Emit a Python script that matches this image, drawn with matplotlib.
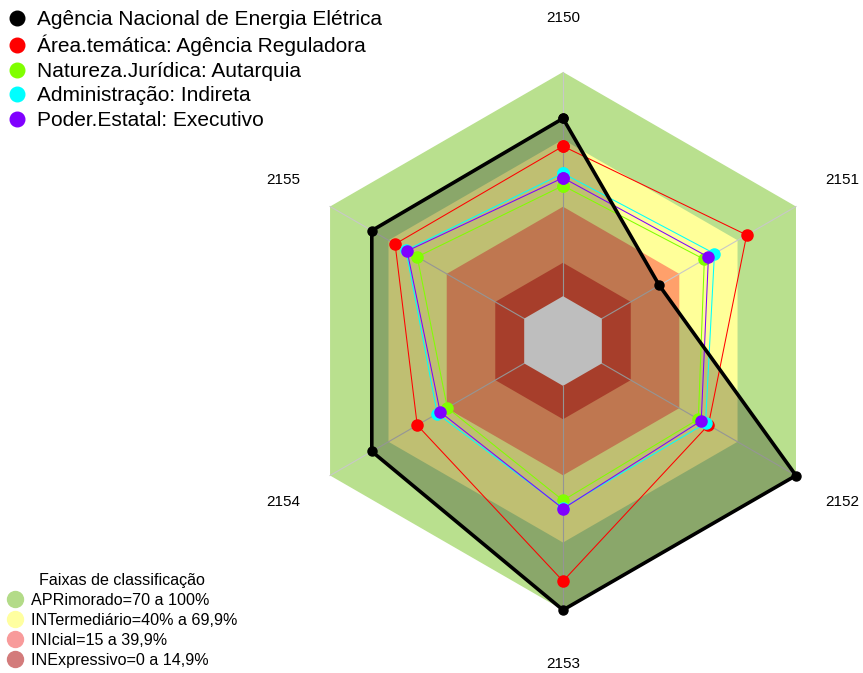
import numpy as np
import matplotlib
matplotlib.use("Agg")
import matplotlib.pyplot as plt
from matplotlib.lines import Line2D

plt.rcParams['font.family'] = ['Liberation Sans', 'DejaVu Sans']

# ---- data ----
axis_labels = ['2150', '2151', '2152', '2153', '2154', '2155']
aneel = [79.3, 29.6, 100.0, 100.0, 78.5, 78.5]
area_tematica = [66.9, 74.6, 54.9, 87.1, 55.1, 66.5]
natureza = [49.3, 52.8, 49.7, 51.1, 39.6, 55.1]
administracao = [54.8, 58.0, 53.4, 54.5, 44.8, 60.9]
poder = [52.8, 54.9, 51.2, 54.8, 43.3, 60.3]

series_names = ['Agência Nacional de Energia Elétrica',
                'Área.temática: Agência Reguladora',
                'Natureza.Jurídica: Autarquia',
                'Administração: Indireta',
                'Poder.Estatal: Executivo']
series_values = [aneel, area_tematica, natureza, administracao, poder]
series_colors = ['#000000', '#ff0000', '#80ff00', '#00ffff', '#8000ff']

band_names = ['APRimorado=70 a 100%', 'INTermediário=40% a 69,9%',
              'INIcial=15 a 39,9%', 'INExpressivo=0 a 14,9%']
band_upper = [100.0, 69.9, 39.9, 14.9]
band_fill_colors = ['#b9e08e', '#ffff99', '#ffa06b', '#e0543a']
band_legend_colors = ['#b3db88', '#ffffa0', '#f89b9b', '#d37b7b']
r_min = -20.0

# ---- figure ----
fig = plt.figure(figsize=(8.63, 6.73), dpi=100)
ax = fig.add_axes([0.3407, 0.0936, 0.6234, 0.7994], projection='polar')
ax.set_theta_zero_location('N')
ax.set_theta_direction(-1)
ax.set_ylim(r_min, 100)
ax.axis('off')

n = len(axis_labels)
theta = np.arange(n) * 2 * np.pi / n
theta_c = np.append(theta, theta[0])

def closed(v):
    return np.append(np.asarray(v, float), v[0])

# bands
for up, col in zip(band_upper, band_fill_colors):
    ax.fill(theta_c, closed([up] * n), color=col, lw=0, zorder=1, clip_on=False)

# spokes
for t in theta:
    ax.plot([t, t], [0, 100], color='#c8c8c8', lw=0.8, zorder=2, clip_on=False)

# black series fill
ax.fill(theta_c, closed(aneel), color='black', alpha=0.25, lw=0, zorder=3, clip_on=False)

# gray centre (negative region)
ax.fill(theta_c, closed([0] * n), color='#bebebe', lw=0, zorder=4, clip_on=False)

# series lines
for i in range(len(series_values) - 1, -1, -1):
    vals, col = series_values[i], series_colors[i]
    if i == 0:
        ax.plot(theta_c, closed(vals), color=col, lw=2.6, marker='o', ms=6.5,
                zorder=10, clip_on=False)
    else:
        ax.plot(theta_c, closed(vals), color=col, lw=0.75, marker='o', ms=8,
                zorder=5 + i, clip_on=False)

# axis labels
for t, lab in zip(theta, axis_labels):
    ax.text(t, 124, lab, ha='center', va='center', fontsize=11, clip_on=False)

# top legend
h1 = [Line2D([], [], marker='o', ls='none', color=c, markersize=10.5) for c in series_colors]
fig.legend(h1, series_names, loc='upper left', bbox_to_anchor=(0.009, 0.985),
           frameon=False, fontsize=15, handlelength=0.9, handletextpad=0.5,
           labelspacing=0.27, borderpad=0, borderaxespad=0)

# bottom legend
h2 = [Line2D([], [], marker='o', ls='none', color=c, markersize=11.5) for c in band_legend_colors]
fig.legend(h2, band_names, title='Faixas de classificação', loc='lower left',
           bbox_to_anchor=(0.008, 0.008), frameon=False, fontsize=11.6,
           title_fontsize=11.6, handlelength=1.0, handletextpad=0.5,
           labelspacing=0.3, borderpad=0, borderaxespad=0)

fig.savefig('out.png', dpi=100)
